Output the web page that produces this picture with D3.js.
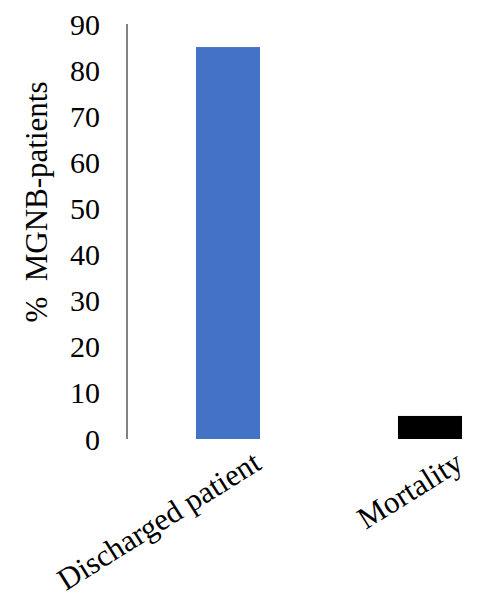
<!DOCTYPE html>
<html>
<head>
<meta charset="utf-8">
<style>
  body { margin: 0; background: #fff; }
</style>
</head>
<body>
<svg id="chart" width="487" height="599"></svg>
<script src="https://d3js.org/d3.v7.min.js"></script>
<script>
// chart values
var categories = ["Discharged patient", "Mortality"];
var percents = [85, 5];
var barColors = ["#4472C4", "#000000"];
var yTicks = [0, 10, 20, 30, 40, 50, 60, 70, 80, 90];

var serif = "'Liberation Serif'";
var svg = d3.select("#chart");

var x = d3.scaleBand()
  .domain(categories)
  .range([127, 531])
  .paddingInner(0.683)
  .paddingOuter(0.3415);

var y = d3.scaleLinear()
  .domain([0, 90])
  .range([439, 24]);

// y axis line
svg.append("line")
  .attr("x1", 127).attr("x2", 127)
  .attr("y1", y(90)).attr("y2", y(0))
  .attr("stroke", "#595959")
  .attr("stroke-width", 1.5);

// tick labels
svg.selectAll(".ytick")
  .data(yTicks)
  .enter().append("text")
  .attr("class", "ytick")
  .attr("x", 100)
  .attr("y", function(d) { return y(d); })
  .attr("dy", "0.35em")
  .attr("text-anchor", "end")
  .style("font-family", serif)
  .style("font-size", "30px")
  .text(function(d) { return d; });

// bars
svg.selectAll(".bar")
  .data(percents)
  .enter().append("rect")
  .attr("class", "bar")
  .attr("x", function(d, i) { return x(categories[i]); })
  .attr("y", function(d) { return y(d); })
  .attr("width", x.bandwidth())
  .attr("height", function(d) { return y(0) - y(d); })
  .attr("fill", function(d, i) { return barColors[i]; });

// category labels
svg.selectAll(".xlab")
  .data(categories)
  .enter().append("text")
  .attr("class", "xlab")
  .attr("text-anchor", "end")
  .attr("transform", function(d) {
    var ex = x(d) + x.bandwidth() + 3;
    return "translate(" + ex + ",468) rotate(-32)";
  })
  .style("font-family", serif)
  .style("font-size", "31px")
  .text(function(d) { return d; });

// y title
svg.append("text")
  .attr("transform", "translate(47,202) rotate(-90)")
  .attr("text-anchor", "middle")
  .style("font-family", serif)
  .style("font-size", "31px")
  .style("white-space", "pre")
  .text("%  MGNB-patients");
</script>
</body>
</html>
